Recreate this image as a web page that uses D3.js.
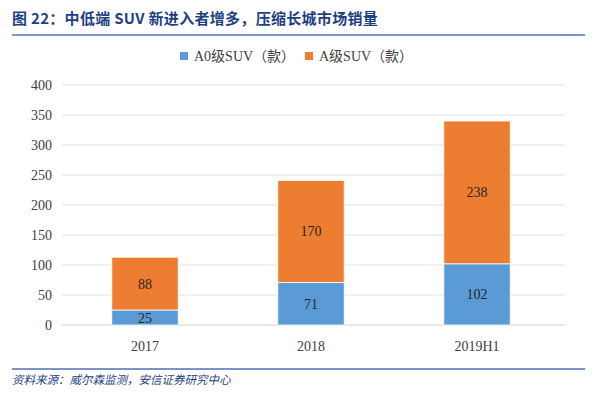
<!DOCTYPE html>
<html>
<head>
<meta charset="utf-8">
<script src="https://cdn.jsdelivr.net/npm/d3@7"></script>
<style>
body { margin: 0; background: #fff; }
svg { display: block; }
</style>
</head>
<body>
<div id="chart"></div>
<script>
var categories = ["2017", "2018", "2019H1"],
    a0Values = [25, 71, 102],
    aValues = [88, 170, 238],
    seriesNames = ["A0级SUV（款）", "A级SUV（款）"],
    yTicks = [0, 50, 100, 150, 200, 250, 300, 350, 400];

var W = 597, H = 395,
    colors = ["#5B9BD5", "#ED7D31"],
    serif = "'Liberation Serif', 'DejaVu Serif', 'Noto Sans CJK SC', serif";

var svg = d3.select("#chart").append("svg")
    .attr("width", W).attr("height", H);

// title
svg.append("text")
    .attr("x", 12).attr("y", 24)
    .attr("fill", "#1F3F83")
    .attr("font-family", "'Noto Sans CJK SC', sans-serif")
    .attr("font-weight", "bold")
    .attr("font-size", 15)
    .attr("letter-spacing", 0.3)
    .text("图 22：中低端 SUV 新进入者增多，压缩长城市场销量");
svg.append("line")
    .attr("x1", 12).attr("x2", 585).attr("y1", 35).attr("y2", 35)
    .attr("stroke", "#7B93C6").attr("stroke-width", 2);

var x = d3.scaleBand().domain(categories).range([62, 560]).paddingInner(0.6).paddingOuter(0.3),
    y = d3.scaleLinear().domain([0, 400]).range([325, 85]);

// grid
svg.append("g").selectAll("line").data(yTicks).enter().append("line")
    .attr("x1", 62).attr("x2", 565)
    .attr("y1", function(d){ return y(d); })
    .attr("y2", function(d){ return y(d); })
    .attr("stroke", function(d){ return d === 0 ? "#d0d0d0" : "#e2e2e2"; })
    .attr("stroke-width", 1);

// y axis labels
svg.append("g").selectAll("text").data(yTicks).enter().append("text")
    .attr("x", 52).attr("y", function(d){ return y(d) + 5; })
    .attr("text-anchor", "end")
    .attr("font-family", serif).attr("font-size", 14).attr("fill", "#404040")
    .text(function(d){ return d; });

var stacked = categories.map(function(c, i){
  return [
    { cat: c, y0: 0, y1: a0Values[i], v: a0Values[i], s: 0 },
    { cat: c, y0: a0Values[i], y1: a0Values[i] + aValues[i], v: aValues[i], s: 1 }
  ];
});
var segs = [].concat.apply([], stacked);

svg.append("g").selectAll("rect").data(segs).enter().append("rect")
    .attr("x", function(d){ return x(d.cat); })
    .attr("width", x.bandwidth())
    .attr("y", function(d){ return y(d.y1); })
    .attr("height", function(d){ return y(d.y0) - y(d.y1); })
    .attr("fill", function(d){ return colors[d.s]; })
    .attr("stroke", "#fff").attr("stroke-width", 0.8);

svg.append("g").selectAll("text").data(segs).enter().append("text")
    .attr("x", function(d){ return x(d.cat) + x.bandwidth() / 2; })
    .attr("y", function(d){ return (y(d.y0) + y(d.y1)) / 2 + 5; })
    .attr("text-anchor", "middle")
    .attr("font-family", serif).attr("font-size", 14).attr("fill", "#262626")
    .text(function(d){ return d.v; });

// x labels
svg.append("g").selectAll("text").data(categories).enter().append("text")
    .attr("x", function(d){ return x(d) + x.bandwidth() / 2; })
    .attr("y", 351)
    .attr("text-anchor", "middle")
    .attr("font-family", serif).attr("font-size", 14).attr("fill", "#404040")
    .text(function(d){ return d; });

// legend
var legX = [180, 305];
var leg = svg.append("g").selectAll("g").data(seriesNames).enter().append("g")
    .attr("transform", function(d, i){ return "translate(" + legX[i] + ",52)"; });
leg.append("rect").attr("width", 8).attr("height", 8)
    .attr("fill", function(d, i){ return colors[i]; });
leg.append("text").attr("x", 14).attr("y", 9)
    .attr("font-family", serif).attr("font-size", 14).attr("fill", "#404040")
    .text(function(d){ return d; });

// bottom rule and source
svg.append("line")
    .attr("x1", 12).attr("x2", 585).attr("y1", 369).attr("y2", 369)
    .attr("stroke", "#7B93C6").attr("stroke-width", 2);
svg.append("text")
    .attr("x", 12).attr("y", 384)
    .attr("fill", "#1F3F83")
    .attr("font-family", "'Noto Sans CJK SC', sans-serif")
    .attr("font-style", "italic")
    .attr("font-size", 11.5)
    .text("资料来源：威尔森监测，安信证券研究中心");
</script>
</body>
</html>
